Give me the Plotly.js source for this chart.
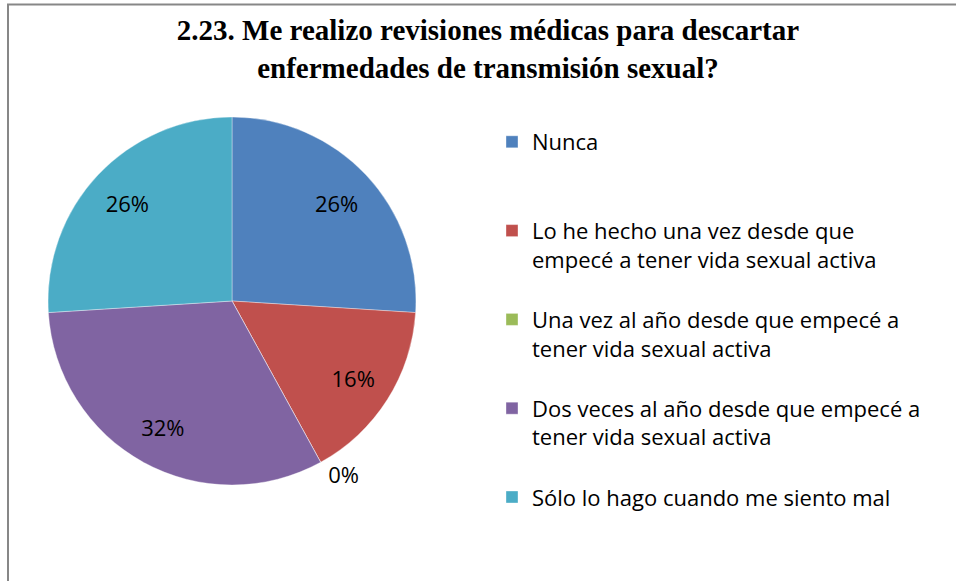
<!DOCTYPE html>
<html>
<head>
<meta charset="utf-8">
<script src="https://cdn.plot.ly/plotly-3.0.1.min.js"></script>
<style>html,body{margin:0;padding:0;background:#fff;}#chart{width:956px;height:581px;}</style>
</head>
<body>
<div id="chart"></div>
<script>
const categories = [
  "Nunca",
  "Lo he hecho una vez desde que<br>empecé a tener vida sexual activa",
  "Una vez al año desde que empecé a<br>tener vida sexual activa",
  "Dos veces al año desde que empecé a<br>tener vida sexual activa",
  "Sólo lo hago cuando me siento mal"
];
const values = [26, 16, 0, 32, 26];
const colors = ["#4F81BD", "#C0504D", "#9BBB59", "#8064A2", "#4BACC6"];
const titleText = "2.23. Me realizo revisiones médicas para descartar<br>enfermedades de transmisión sexual?";

const W = 956, H = 581;
const pad = s => { const n = (s.match(/<br>/g) || []).length; let r = s; for (let i = n; i < 2; i++) r += "<br> "; return r; };
const legendLabels = categories.map(pad);
const pieDomain = {x: [48 / W, 416 / W], y: [1 - 485 / H, 1 - 117 / H]};
const labelFont = {family: "Open Sans, sans-serif", size: 22, color: "#000"};

const pie = {
  type: "pie",
  labels: legendLabels,
  values: values,
  sort: false,
  direction: "clockwise",
  rotation: 0,
  marker: {colors: colors, line: {color: "rgba(255,255,255,0.6)", width: 0.6}},
  textinfo: "none",
  hoverinfo: "none",
  domain: pieDomain,
  showlegend: true
};

// transparent ring carrying the data labels, so they sit further out in each slice
const labelRing = {
  type: "pie",
  labels: legendLabels,
  values: values,
  sort: false,
  direction: "clockwise",
  rotation: 0,
  hole: 0.56,
  marker: {colors: colors.map(() => "rgba(0,0,0,0)"), line: {width: 0}},
  texttemplate: "%{value}%",
  textposition: ["inside", "inside", "outside", "inside", "inside"],
  insidetextorientation: "horizontal",
  textfont: labelFont,
  outsidetextfont: labelFont,
  hoverinfo: "none",
  domain: pieDomain,
  showlegend: false
};

const layout = {
  width: W, height: H,
  margin: {l: 0, r: 0, t: 0, b: 0},
  paper_bgcolor: "#fff",
  title: {
    text: titleText,
    font: {family: "Liberation Serif, Times New Roman, serif", size: 29, color: "#000", weight: "bold"},
    x: 488 / W, xanchor: "center", xref: "paper",
    y: 1 - 40 / H, yanchor: "top", yref: "container"
  },
  legend: {
    x: 492 / W, xanchor: "left",
    y: 1 - 121 / H, yanchor: "top",
    valign: "top",
    font: labelFont,
    bgcolor: "rgba(0,0,0,0)"
  },
  shapes: [{
    type: "rect", xref: "paper", yref: "paper",
    x0: 8 / W, x1: 1.05, y0: -0.05, y1: 1 - 4.5 / H,
    line: {color: "#878787", width: 2}, fillcolor: "rgba(0,0,0,0)"
  }]
};

Plotly.newPlot("chart", [pie, labelRing], layout, {displayModeBar: false, staticPlot: true});
</script>
</body>
</html>
